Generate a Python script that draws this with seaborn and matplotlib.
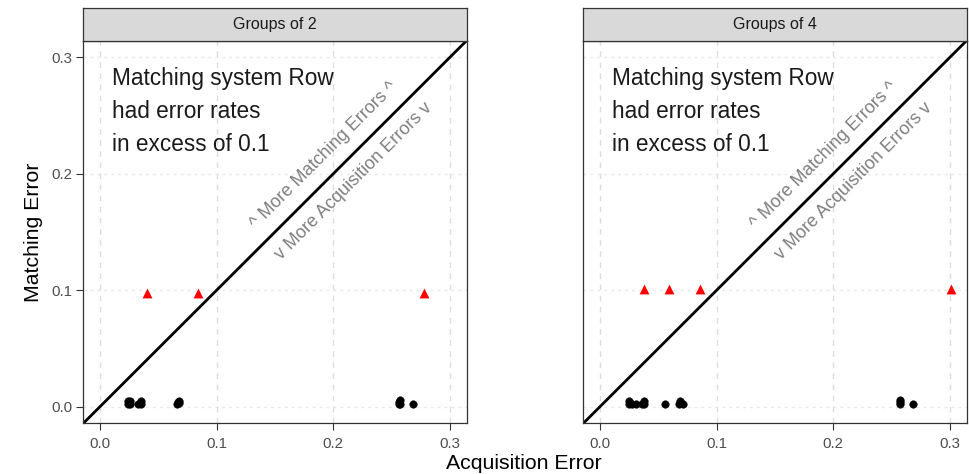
import matplotlib
matplotlib.use("Agg")
import matplotlib.pyplot as plt
import seaborn as sns
import pandas as pd
import numpy as np

# ---- data ----
panels = ["Groups of 2", "Groups of 4"]

g2_dot_x = [0.024, 0.024, 0.026, 0.026, 0.033, 0.035, 0.035, 0.066, 0.067, 0.068, 0.068, 0.256, 0.256, 0.257, 0.257, 0.268]
g2_dot_y = [0.002, 0.005, 0.002, 0.005, 0.002, 0.002, 0.005, 0.002, 0.004, 0.005, 0.003, 0.002, 0.004, 0.006, 0.002, 0.002]
g2_tri_x = [0.040, 0.084, 0.278]
g2_tri_y = [0.098, 0.098, 0.098]

g4_dot_x = [0.025, 0.025, 0.027, 0.031, 0.036, 0.038, 0.038, 0.056, 0.068, 0.069, 0.071, 0.257, 0.257, 0.257, 0.268]
g4_dot_y = [0.002, 0.005, 0.002, 0.002, 0.002, 0.005, 0.002, 0.002, 0.002, 0.005, 0.002, 0.002, 0.004, 0.006, 0.002]
g4_tri_x = [0.038, 0.059, 0.086, 0.301]
g4_tri_y = [0.101, 0.101, 0.101, 0.101]

ticks = [0.0, 0.1, 0.2, 0.3]
tick_labels = ["0.0", "0.1", "0.2", "0.3"]
note_lines = ["Matching system Row", "had error rates", "in excess of 0.1"]
upper_label = "^ More Matching Errors ^"
lower_label = "v More Acquisition Errors v"
x_title = "Acquisition Error"
y_title = "Matching Error"

dots = pd.DataFrame({
    "x": g2_dot_x + g4_dot_x,
    "y": g2_dot_y + g4_dot_y,
    "panel": [panels[0]] * len(g2_dot_x) + [panels[1]] * len(g4_dot_x),
})
tris = pd.DataFrame({
    "x": g2_tri_x + g4_tri_x,
    "y": g2_tri_y + g4_tri_y,
    "panel": [panels[0]] * len(g2_tri_x) + [panels[1]] * len(g4_tri_x),
})

sns.set_theme(style="white")
plt.rcParams["font.family"] = ["Liberation Sans", "DejaVu Sans"]

fig = plt.figure(figsize=(9.69, 4.74), dpi=100)
lims = (-0.0143, 0.3143)
ax_w = 0.3955
ax_h = 0.8072
ax_b = 0.1070
lefts = [0.0860, 0.6020]
strip_h = 0.069

for i, (panel, left) in enumerate(zip(panels, lefts)):
    ax = fig.add_axes([left, ax_b, ax_w, ax_h])
    ax.set_xlim(lims)
    ax.set_ylim(lims)
    ax.set_facecolor("white")
    for t in ticks:
        ax.axvline(t, color="#dcdcdc", lw=1.0, ls=(0, (4, 4)), zorder=0)
        ax.axhline(t, color="#e8e8e8", lw=1.0, ls=(0, (2, 3)), zorder=0)
    ax.plot(lims, lims, color="black", lw=2.0, zorder=2)
    sns.scatterplot(data=dots[dots.panel == panel], x="x", y="y", ax=ax,
                    color="black", s=30, edgecolor="black", linewidth=0.3, zorder=3, legend=False)
    sns.scatterplot(data=tris[tris.panel == panel], x="x", y="y", ax=ax, marker="^",
                    color="red", s=50, edgecolor="red", linewidth=0, zorder=3, legend=False)
    for k, line in enumerate(note_lines):
        ax.text(0.0103, 0.2766 - k * 0.0287, line, fontsize=16.3, color="#1a1a1a",
                ha="left", va="baseline")
    ax.text(0.192, 0.2158, upper_label, rotation=45, rotation_mode="anchor",
            ha="center", va="center", fontsize=13, color="#7f7f7f")
    ax.text(0.218, 0.194, lower_label, rotation=45, rotation_mode="anchor",
            ha="center", va="center", fontsize=13, color="#7f7f7f")
    ax.set_xticks(ticks)
    ax.set_xticklabels(tick_labels)
    ax.set_yticks(ticks)
    if i == 0:
        ax.set_yticklabels(tick_labels)
        ax.tick_params(axis="y", length=5, width=0.8, color="#333333", labelsize=10.8,
                       labelcolor="#4d4d4d", pad=3, left=True)
    else:
        ax.set_yticklabels([])
        ax.tick_params(axis="y", left=False, length=0)
    ax.tick_params(axis="x", length=5, width=0.8, color="#333333", labelsize=10.8,
                   labelcolor="#4d4d4d", pad=5, bottom=True)
    ax.set_xlabel("")
    ax.set_ylabel("")
    for sp in ax.spines.values():
        sp.set_color("#333333")
        sp.set_linewidth(0.9)
        sp.set_visible(True)
    # strip
    sax = fig.add_axes([left, ax_b + ax_h, ax_w, strip_h])
    sax.set_facecolor("#d9d9d9")
    sax.set_xticks([])
    sax.set_yticks([])
    for sp in sax.spines.values():
        sp.set_color("#333333")
        sp.set_linewidth(0.9)
        sp.set_visible(True)
    sax.text(0.5, 0.5, panel, ha="center", va="center", fontsize=11.5, color="#1a1a1a",
             transform=sax.transAxes)

fig.text(0.5408, 0.023, x_title, ha="center", va="center", fontsize=15.3, color="black")
fig.text(0.0346, ax_b + ax_h / 2, y_title, ha="center", va="center", rotation=90,
         fontsize=15.3, color="black")

fig.savefig("out.png", dpi=100)
